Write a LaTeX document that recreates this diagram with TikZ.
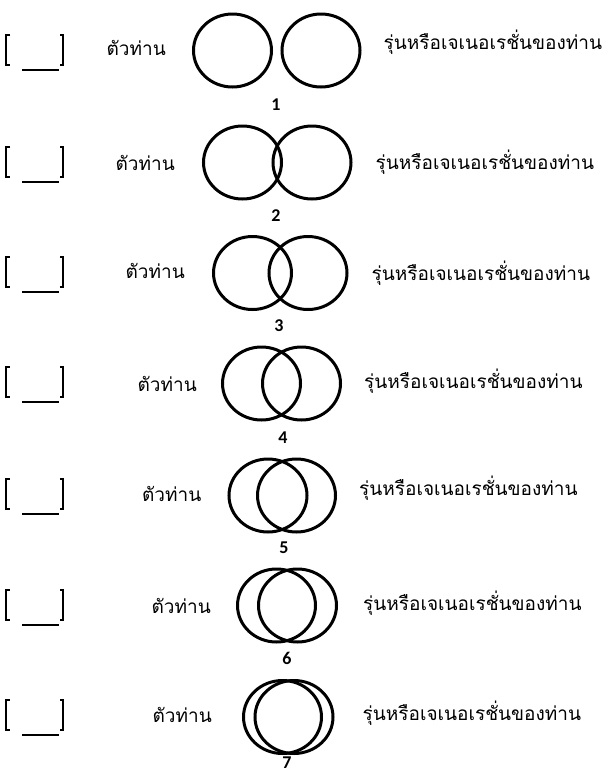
\documentclass[tikz,border=0pt]{standalone}
\usepackage{fontspec}
\setmainfont{Carlito}
\newfontfamily\thaifont[Script=Thai]{Loma}
\usetikzlibrary{shapes.geometric,positioning}

\begin{document}
\begin{tikzpicture}[x=1pt,y=-1pt,
  ring/.style={draw,ellipse,line width=3pt,minimum width=78pt,minimum height=73pt,inner sep=0pt},
  thai/.style={font=\thaifont\fontsize{19}{22}\selectfont,inner sep=0pt},
  num/.style={font=\bfseries\fontsize{18}{20}\selectfont,inner sep=0pt},
  chk/.pic={\draw[line width=1.3pt] (-25,-15) -| (-29,15) -- (-25,15);
            \draw[line width=1.3pt] (25,-15) -| (28,15) -- (25,15);
            \draw[line width=2pt] (-13,20) -- (24,20);}]
\useasboundingbox (0,0) rectangle (608,772);
\node[ring] (l1) at (232.5,50.5) {};
\node[ring] (r1) at (321,50.5) {};
\node[ring] (l2) at (242.5,162.5) {};
\node[ring] (r2) at (312,162.5) {};
\node[ring] (l3) at (252.5,273) {};
\node[ring] (r3) at (308,273) {};
\node[ring] (l4) at (261.5,383.5) {};
\node[ring] (r4) at (301.5,383.5) {};
\node[ring] (l5) at (268,495.5) {};
\node[ring] (r5) at (296.5,495.5) {};
\node[ring] (l6) at (276.5,605.5) {};
\node[ring] (r6) at (297.5,605.5) {};
\node[ring] (l7) at (282.5,717) {};
\node[ring] (r7) at (294,717) {};
\node[thai,left=26pt of l1,yshift=3pt] (y1) {ตัวท่าน};
\node[thai,left=27pt of l2] (y2) {ตัวท่าน};
\node[thai,left=27pt of l3,yshift=2pt] (y3) {ตัวท่าน};
\node[thai,left=24pt of l4] (y4) {ตัวท่าน};
\node[thai,left=26pt of l5,yshift=2pt] (y5) {ตัวท่าน};
\node[thai,left=25pt of l6] (y6) {ตัวท่าน};
\node[thai,left=30pt of l7,yshift=2pt] (y7) {ตัวท่าน};
\node[thai,right=22pt of r1,yshift=8pt] (g1) {รุ่นหรือเจเนอเรชั่นของท่าน};
\node[thai,right=23pt of r2] (g2) {รุ่นหรือเจเนอเรชั่นของท่าน};
\node[thai,right=23pt of r3] (g3) {รุ่นหรือเจเนอเรชั่นของท่าน};
\node[thai,right=22pt of r4,yshift=2pt] (g4) {รุ่นหรือเจเนอเรชั่นของท่าน};
\node[thai,right=22pt of r5,yshift=7pt] (g5) {รุ่นหรือเจเนอเรชั่นของท่าน};
\node[thai,right=25pt of r6,yshift=2pt] (g6) {รุ่นหรือเจเนอเรชั่นของท่าน};
\node[thai,right=28pt of r7,yshift=4pt] (g7) {รุ่นหรือเจเนอเรชั่นของท่าน};
\node[num] (n1) at (276,105) {1};
\node[num] (n2) at (276,216) {2};
\node[num] (n3) at (279,326) {3};
\node[num] (n4) at (283,438) {4};
\node[num] (n5) at (284,548) {5};
\node[num] (n6) at (287,658) {6};
\node[num] (n7) at (287,763) {7};
\pic at (35,50) {chk};
\pic at (35,162) {chk};
\pic at (35,272) {chk};
\pic at (35,382) {chk};
\pic at (35,494) {chk};
\pic at (35,605) {chk};
\pic at (35,715) {chk};
\end{tikzpicture}
\end{document}
